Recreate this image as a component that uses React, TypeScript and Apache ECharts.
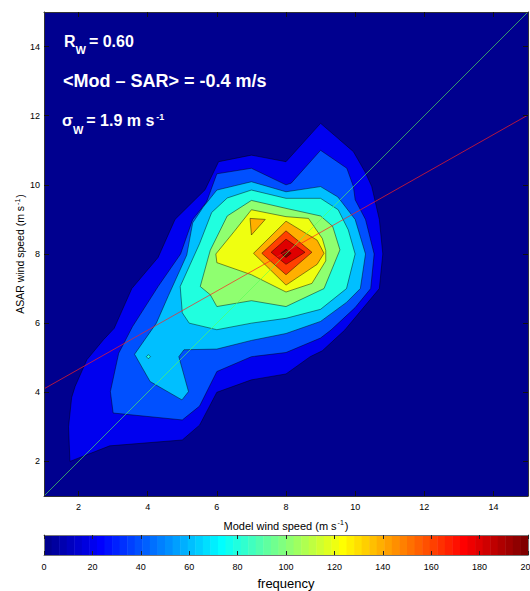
import React, { useEffect, useRef } from "react";
import * as echarts from "echarts";

// ---------- data ----------
const xTickValues = [2, 4, 6, 8, 10, 12, 14];
const yTickValues = [2, 4, 6, 8, 10, 12, 14];
const colorbarTicks = [0, 20, 40, 60, 80, 100, 120, 140, 160, 180, 200];
const colorbarMin = 0;
const colorbarMax = 200;
const colormapSize = 64;

// filled-contour regions (model wind speed, ASAR wind speed), one per level
const level20 = [[1.75, 2.0], [2.9, 2.45], [5.0, 2.62], [5.5, 3.05], [6.0, 4.0], [7.0, 4.36], [8.0, 4.53], [8.7, 5.03], [9.05, 5.2], [9.7, 5.8], [10.7, 7.0], [10.8, 8.0], [10.7, 9.0], [10.48, 9.95], [10.3, 10.35], [9.95, 10.96], [9.0, 11.78], [8.0, 10.67], [7.0, 10.86], [6.05, 10.67], [5.66, 9.86], [4.79, 9.0], [4.3, 7.9], [3.54, 7.0], [3.03, 5.85], [2.72, 5.52], [2.24, 4.94], [1.9, 4.17], [1.8, 3.85], [1.71, 3.0]];
const level40 = [[3.0, 3.4], [5.0, 3.2], [5.5, 3.6], [6.0, 4.6], [7.0, 5.03], [8.0, 5.15], [9.0, 5.57], [9.3, 5.8], [10.0, 6.45], [10.45, 7.0], [10.55, 8.0], [10.3, 9.0], [10.0, 9.57], [9.95, 9.95], [9.76, 10.48], [9.0, 11.0], [8.15, 10.05], [8.0, 10.0], [7.0, 10.48], [6.0, 10.32], [5.7, 9.5], [5.3, 9.0], [4.95, 8.0], [4.3, 7.06], [3.56, 5.9], [3.16, 5.13], [2.92, 4.02]];
const level60 = [[3.62, 5.1], [4.07, 4.31], [4.99, 3.78], [5.18, 4.02], [4.9, 5.03], [5.05, 5.23], [6.0, 5.25], [7.0, 5.5], [8.0, 5.7], [9.0, 6.05], [9.75, 6.6], [10.15, 7.0], [10.3, 8.0], [10.0, 9.0], [9.5, 9.65], [9.0, 9.95], [8.0, 9.8], [7.0, 10.09], [6.0, 9.85], [5.6, 9.35], [5.3, 8.9], [5.13, 7.97], [4.6, 6.8], [4.25, 6.0]];
const level80 = [[4.94, 7.06], [5.0, 6.3], [5.2, 6.0], [6.0, 5.81], [7.0, 6.0], [8.0, 6.14], [9.0, 6.4], [9.75, 7.0], [10.0, 8.0], [9.8, 8.7], [9.51, 9.28], [9.0, 9.61], [8.0, 9.61], [7.0, 9.85], [6.3, 9.62], [5.85, 9.2], [5.5, 8.3]];
const level80Islet = [[3.96, 5.03], [4.02, 5.09], [4.08, 5.03], [4.02, 4.97]];
const level100 = [[5.52, 7.06], [5.81, 6.82], [6.0, 6.48], [7.0, 6.65], [8.0, 6.48], [9.1, 7.0], [9.56, 8.12], [9.35, 8.8], [9.0, 9.1], [8.0, 9.32], [7.0, 9.55], [6.3, 9.1], [5.81, 8.11]];
const level120 = [[5.97, 8.0], [6.0, 7.75], [7.0, 7.4], [8.0, 6.9], [8.75, 7.15], [9.15, 7.8], [9.15, 8.1], [9.05, 8.45], [8.65, 9.03], [8.0, 9.08], [7.0, 9.28], [6.5, 8.65]];
const level140Islet = [[6.96, 9.03], [7.4, 9.0], [7.0, 8.55]];
const level140 = [[7.06, 8.02], [8.0, 8.95], [8.9, 8.4], [9.1, 8.02], [8.9, 7.7], [8.0, 7.1]];
const level160 = [[7.3, 8.02], [8.0, 8.67], [8.75, 8.05], [8.0, 7.4]];
const level180 = [[7.57, 8.05], [8.0, 8.43], [8.55, 8.05], [8.0, 7.7]];
const level200 = [[7.85, 8.02], [8.0, 8.14], [8.15, 8.02], [8.0, 7.9]];

// lines
const oneToOneX = [1, 15];
const oneToOneY = [1, 15];
const regressionX = [1, 15];
const regressionY = [4.1, 12.02];

// ---------- helpers ----------
function jet(i: number): string {
  let r = 0, g = 0, b = 0;
  if (i <= 8) { b = 0.5 + i / 16; }
  else if (i <= 24) { g = (i - 8) / 16; b = 1; }
  else if (i <= 40) { r = (i - 24) / 16; g = 1; b = 1 - (i - 24) / 16; }
  else if (i <= 56) { r = 1; g = 1 - (i - 40) / 16; }
  else { r = 1 - (i - 56) / 16; }
  const h = (v: number) => Math.round(Math.max(0, Math.min(1, v)) * 255).toString(16).padStart(2, "0");
  return "#" + h(r) + h(g) + h(b);
}
function levelColor(v: number): string {
  const idx = Math.min(colormapSize, Math.floor(((v - colorbarMin) / (colorbarMax - colorbarMin)) * colormapSize) + 1);
  return jet(idx);
}

const contours = [
  { level: 20, pts: level20 },
  { level: 40, pts: level40 },
  { level: 60, pts: level60 },
  { level: 80, pts: level80 },
  { level: 80, pts: level80Islet },
  { level: 100, pts: level100 },
  { level: 120, pts: level120 },
  { level: 140, pts: level140Islet },
  { level: 140, pts: level140 },
  { level: 160, pts: level160 },
  { level: 180, pts: level180 },
  { level: 200, pts: level200 },
];

const FONT = "'Liberation Sans', Arial, Helvetica, sans-serif";

export default function App() {
  const ref = useRef<HTMLDivElement>(null);
  useEffect(() => {
    if (!ref.current) return;
    const chart = echarts.init(ref.current, null, { renderer: "svg" });
    const step = (colorbarMax - colorbarMin) / colormapSize;
    const cells = Array.from({ length: colormapSize }, (_, i) => [colorbarMin + i * step, colorbarMin + (i + 1) * step, i + 1]);

    const tickStyle = { color: "#111", width: 1 };
    const frameLine = { show: true, onZero: false, lineStyle: { color: "#333", width: 1 } };
    const cbFrame = { show: true, onZero: false, lineStyle: { color: "#777", width: 1 } };
    const cbLabelValues = colorbarTicks.slice(0, -1);
    const cbLastTick = colorbarTicks[colorbarTicks.length - 1];

    chart.setOption({
      animation: false,
      backgroundColor: "#fff",
      grid: [
        { left: 44, top: 12, width: 484, height: 484, show: true, backgroundColor: levelColor(0), borderWidth: 0 },
        { left: 44, top: 535, width: 484, height: 23, show: false },
      ],
      xAxis: [
        {
          gridIndex: 0, type: "value", min: 1, max: 15, position: "bottom", z: 10,
          axisLine: frameLine,
          axisTick: { show: true, inside: true, length: 5, customValues: xTickValues, lineStyle: tickStyle },
          axisLabel: { show: true, customValues: xTickValues, fontSize: 9, color: "#000", margin: 6, fontFamily: FONT },
          splitLine: { show: false },
          name: "{a|Model wind speed (m s}{b|-1}{a|)}",
          nameLocation: "middle", nameGap: 23,
          nameTextStyle: {
            rich: {
              a: { fontSize: 11, color: "#000", fontFamily: FONT },
              b: { fontSize: 7, color: "#000", fontFamily: FONT, padding: [0, 1, 6, 1] },
            },
          },
        },
        {
          gridIndex: 0, type: "value", min: 1, max: 15, position: "top", z: 10,
          axisLine: frameLine,
          axisTick: { show: true, inside: true, length: 5, customValues: xTickValues, lineStyle: tickStyle },
          axisLabel: { show: false },
          splitLine: { show: false },
        },
        {
          gridIndex: 1, type: "value", min: colorbarMin, max: colorbarMax, interval: 20, position: "bottom", z: 10,
          axisLine: cbFrame,
          axisTick: { show: true, inside: true, length: 4, lineStyle: { color: "#222", width: 1 } },
          axisLabel: {
            show: true, fontSize: 9, color: "#000", margin: 7, fontFamily: FONT,
            customValues: cbLabelValues,
          },
          splitLine: { show: false },
          name: "frequency", nameLocation: "middle", nameGap: 22,
          nameTextStyle: { fontSize: 13, color: "#000", fontFamily: FONT },
        },
        {
          gridIndex: 1, type: "value", min: colorbarMin, max: colorbarMax, interval: 20, position: "top", z: 10,
          axisLine: cbFrame,
          axisTick: { show: true, inside: true, length: 4, lineStyle: { color: "#222", width: 1 } },
          axisLabel: { show: false },
          splitLine: { show: false },
        },
      ],
      yAxis: [
        {
          gridIndex: 0, type: "value", min: 1, max: 15, position: "left", z: 10,
          axisLine: frameLine,
          axisTick: { show: true, inside: true, length: 5, customValues: yTickValues, lineStyle: tickStyle },
          axisLabel: { show: true, customValues: yTickValues, fontSize: 9, color: "#000", margin: 4, fontFamily: FONT },
          splitLine: { show: false },
          name: "{a|ASAR wind speed (m s}{b|-1}{a|)}",
          nameLocation: "middle", nameGap: 17.5, nameRotate: 90, nameMoveOverlap: false,
          nameTextStyle: {
            rich: {
              a: { fontSize: 10.5, color: "#000", fontFamily: FONT },
              b: { fontSize: 7, color: "#000", fontFamily: FONT, padding: [0, 1, 6, 1] },
            },
          },
        },
        {
          gridIndex: 0, type: "value", min: 1, max: 15, position: "right", z: 10,
          axisLine: frameLine,
          axisTick: { show: true, inside: true, length: 5, customValues: yTickValues, lineStyle: tickStyle },
          axisLabel: { show: false },
          splitLine: { show: false },
        },
        {
          gridIndex: 1, type: "value", min: 0, max: 1, position: "left", z: 10,
          axisLine: cbFrame, axisTick: { show: false }, axisLabel: { show: false }, splitLine: { show: false },
        },
        {
          gridIndex: 1, type: "value", min: 0, max: 1, position: "right", z: 10,
          axisLine: cbFrame, axisTick: { show: false }, axisLabel: { show: false }, splitLine: { show: false },
        },
      ],
      series: [
        {
          type: "custom", xAxisIndex: 0, yAxisIndex: 0, z: 2, silent: true,
          data: contours.map((c) => [c.pts[0][0], c.pts[0][1]]),
          encode: { x: 0, y: 1 },
          renderItem: (params: any, api: any) => {
            const c = contours[params.dataIndex];
            return {
              type: "polygon",
              shape: { points: c.pts.map((p) => api.coord(p)) },
              style: { fill: levelColor(c.level), stroke: "rgba(0,0,0,0.75)", lineWidth: 0.6 },
            };
          },
        },
        {
          type: "line", xAxisIndex: 0, yAxisIndex: 0, z: 5, silent: true, symbol: "none",
          data: oneToOneX.map((x, i) => [x, oneToOneY[i]]),
          lineStyle: { color: "#55ff55", width: 0.6 },
        },
        {
          type: "line", xAxisIndex: 0, yAxisIndex: 0, z: 5, silent: true, symbol: "none",
          data: regressionX.map((x, i) => [x, regressionY[i]]),
          lineStyle: { color: "#ff2020", width: 0.7 },
        },
        {
          type: "custom", xAxisIndex: 2, yAxisIndex: 2, z: 2, silent: true,
          data: cells,
          encode: { x: [0, 1] },
          renderItem: (params: any, api: any) => {
            const s = api.value(0), e = api.value(1), idx = api.value(2);
            const p0 = api.coord([s, 1]);
            const p1 = api.coord([e, 0]);
            return {
              type: "rect",
              shape: { x: p0[0], y: p0[1], width: p1[0] - p0[0] + 0.5, height: p1[1] - p0[1] },
              style: { fill: jet(idx) },
            };
          },
        },
      ],
      graphic: [
        {
          type: "text", x: 64, y: 41, z: 20,
          style: {
            text: "{a|R}{s|W}{a|= 0.60}", verticalAlign: "middle", fill: "#fff",
            rich: {
              a: { fontSize: 16, fontWeight: "bold", fontFamily: FONT, fill: "#fff" },
              s: { fontSize: 11, fontWeight: "bold", fontFamily: FONT, fill: "#fff", padding: [17, 3, 0, 0] },
            },
          },
        },
        {
          type: "text", x: 63, y: 80.5, z: 20,
          style: {
            text: "<Mod \u2013 SAR> = -0.4 m/s", verticalAlign: "middle", fill: "#fff",
            fontSize: 18, fontWeight: "bold", fontFamily: FONT,
          },
        },
        {
          type: "text", x: 62, y: 120.5, z: 20,
          style: {
            text: "{a|\u03c3}{s|W}{a|= 1.9 m s}{p|-1}", verticalAlign: "middle", fill: "#fff",
            rich: {
              a: { fontSize: 16, fontWeight: "bold", fontFamily: FONT, fill: "#fff" },
              s: { fontSize: 11, fontWeight: "bold", fontFamily: FONT, fill: "#fff", padding: [18, 3, 0, 0] },
              p: { fontSize: 9, fontWeight: "bold", fontFamily: FONT, fill: "#fff", padding: [0, 0, 7, 2] },
            },
          },
        },
      ],
    });

    // last colorbar tick label, placed at its own tick (it runs past the page edge as in the original)
    const lastX = chart.convertToPixel({ xAxisIndex: 2 }, cbLastTick) as unknown as number;
    const cbBottom = chart.convertToPixel({ yAxisIndex: 2 }, 0) as unknown as number;
    chart.setOption({
      graphic: [
        {
          id: "cbLast", type: "text", x: lastX, y: cbBottom + 7, z: 20,
          style: { text: String(cbLastTick), align: "center", verticalAlign: "top", fontSize: 9, fontFamily: FONT, fill: "#000" },
        },
      ],
    });
    return () => chart.dispose();
  }, []);
  return <div ref={ref} style={{ position: "absolute", left: 0, top: 0, width: 530, height: 591 }} />;
}
